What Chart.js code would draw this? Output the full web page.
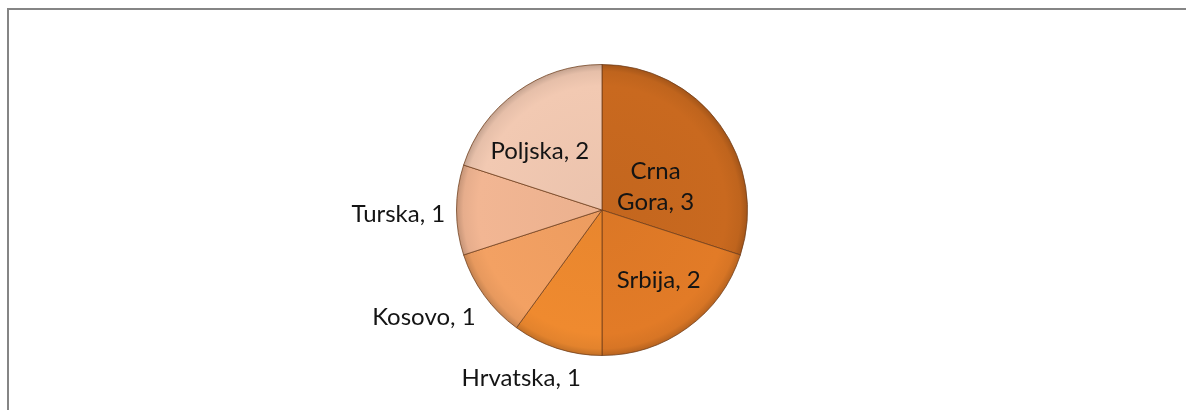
<!DOCTYPE html>
<html>
<head>
<meta charset="utf-8">
<script src="https://cdn.jsdelivr.net/npm/chart.js@4.4.1/dist/chart.umd.min.js"></script>
<style>
  html, body { margin: 0; padding: 0; background: #fff; }
  #wrap { position: relative; width: 1186px; height: 410px; }
  #frame {
    position: absolute; left: 7px; top: 8px; right: 0; bottom: 0;
    border-top: 2px solid #858585; border-left: 2px solid #858585;
    pointer-events: none;
  }
  canvas { position: absolute; left: 0; top: 0; }
</style>
</head>
<body>
<div id="wrap">
  <canvas id="pie" width="1186" height="410"></canvas>
  <div id="frame"></div>
</div>
<script>
// data
const labels = ['Crna Gora', 'Srbija', 'Hrvatska', 'Kosovo', 'Turska', 'Poljska']
const values = [3, 2, 1, 1, 1, 2]
const colors = ['#C9691F', '#E27B27', '#EF8A2F', '#F3A163', '#F2B693', '#F2C9B2']

// where each data label sits: angle shift (deg) from slice middle, radius fraction, wrap text
const placement = [
    { a: 13, r: 0.40, wrap: true },
    { a: -3, r: 0.62 },
    { a: 7.7, r: 1.28 },
    { a: 4.9, r: 1.43 },
    { a: -1.1, r: 1.40 },
    { a: -10.4, r: 0.59 }
]

function shade(hex, f) {
    let n = parseInt(hex.slice(1), 16)
    let r = (n >> 16) & 255, g = (n >> 8) & 255, b = n & 255
    r = Math.round(Math.min(255, r * f))
    g = Math.round(Math.min(255, g * f))
    b = Math.round(Math.min(255, b * f))
    return `rgb(${r},${g},${b})`
}

function sliceFill(ctx) {
    let chart = ctx.chart
    let area = chart.chartArea
    if (!area) return colors[ctx.dataIndex]
    let cx = (area.left + area.right) / 2
    let cy = (area.top + area.bottom) / 2
    let rad = Math.min(area.right - area.left, area.bottom - area.top) / 2
    let c = colors[ctx.dataIndex]
    let grad = chart.ctx.createRadialGradient(cx, cy, 0, cx, cy, rad)
    grad.addColorStop(0, shade(c, 0.97))
    grad.addColorStop(0.85, c)
    grad.addColorStop(0.95, shade(c, 0.95))
    grad.addColorStop(1, shade(c, 0.8))
    return grad
}

const labelPlugin = {
    id: 'sliceLabels',
    afterDatasetsDraw(chart) {
        let meta = chart.getDatasetMeta(0)
        let ctx = chart.ctx
        ctx.save()
        ctx.font = '24px Lato, "Open Sans", sans-serif'
        ctx.fillStyle = '#141414'
        ctx.textAlign = 'center'
        ctx.textBaseline = 'middle'
        meta.data.forEach((arc, i) => {
            let p = arc.getProps(['x', 'y', 'startAngle', 'endAngle', 'outerRadius'], true)
            let pl = placement[i]
            let mid = (p.startAngle + p.endAngle) / 2 + pl.a * Math.PI / 180
            let px = p.x + Math.cos(mid) * p.outerRadius * pl.r
            let py = p.y + Math.sin(mid) * p.outerRadius * pl.r
            let text = labels[i] + ', ' + values[i]
            if (pl.wrap) {
                let parts = labels[i].split(' ')
                let lines = [parts[0], parts.slice(1).join(' ') + ', ' + values[i]]
                ctx.fillText(lines[0], px, py - 15.5)
                ctx.fillText(lines[1], px, py + 15.5)
            } else {
                ctx.fillText(text, px, py)
            }
        })
        ctx.restore()
    }
}

new Chart(document.getElementById('pie'), {
    type: 'pie',
    data: {
        labels: labels,
        datasets: [{
            data: values,
            backgroundColor: sliceFill,
            borderColor: 'rgba(110,60,25,0.75)',
            borderWidth: 1
        }]
    },
    options: {
        responsive: false,
        animation: false,
        layout: {
            padding: { top: 64, bottom: 54, left: 18, right: 0 }
        },
        plugins: {
            legend: { display: false },
            tooltip: { enabled: false }
        }
    },
    plugins: [labelPlugin]
})
</script>
</body>
</html>
